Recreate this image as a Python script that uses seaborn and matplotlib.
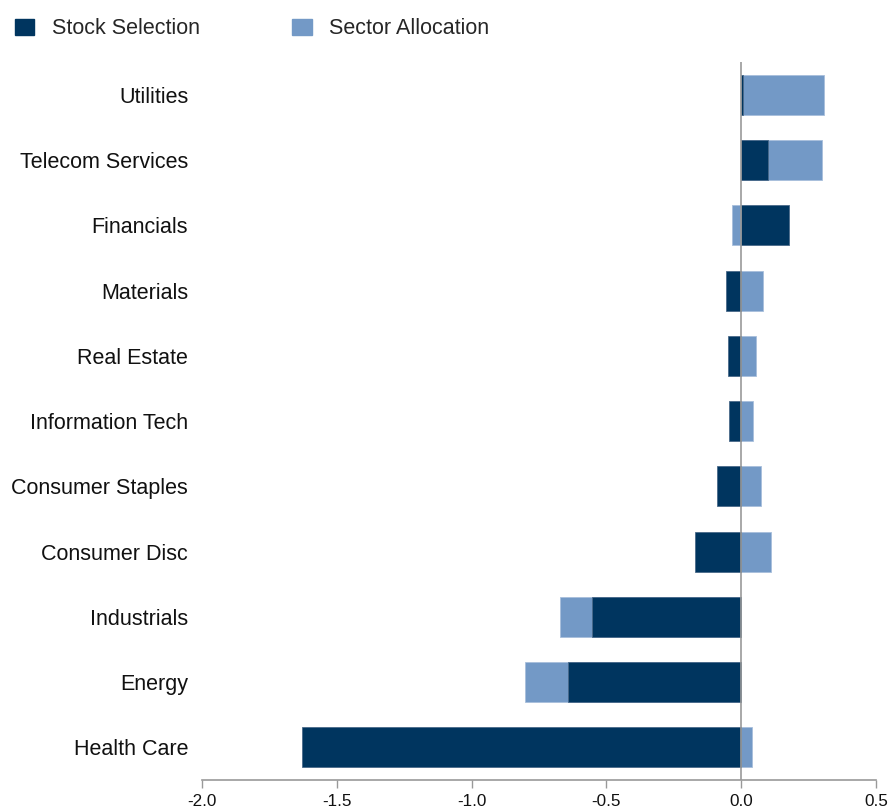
import matplotlib
matplotlib.use("Agg")
import matplotlib.pyplot as plt
import numpy as np
import pandas as pd
import seaborn as sns
from matplotlib.patches import Patch

sectors = [
    "Utilities", "Telecom Services", "Financials", "Materials", "Real Estate",
    "Information Tech", "Consumer Staples", "Consumer Disc", "Industrials",
    "Energy", "Health Care",
]
stock_selection = [0.008, 0.101, 0.178, -0.057, -0.048, -0.043, -0.089, -0.171, -0.554, -0.641, -1.628]
sector_allocation = [0.300, 0.200, -0.033, 0.083, 0.057, 0.043, 0.075, 0.110, -0.116, -0.160, 0.041]
x_ticks = [-2.0, -1.5, -1.0, -0.5, 0.0, 0.5]

DARK = "#00355f"
LIGHT = "#7399c6"

stock = np.array(stock_selection)
alloc = np.array(sector_allocation)
# positives and negatives stack separately: allocation sits beyond selection when signs agree
outer = np.where(np.sign(stock) == np.sign(alloc), stock + alloc, alloc)
df = pd.DataFrame({"sector": sectors, "stock": stock, "outer": outer})

sns.set_style("white")
plt.rcParams["font.family"] = ["Liberation Sans", "DejaVu Sans"]

fig = plt.figure(figsize=(8.9, 8.08), dpi=100)
ax = fig.add_axes([0.227, 0.0347, 0.757, 0.8883])

sns.barplot(data=df, x="outer", y="sector", order=sectors, orient="h", color=LIGHT,
            saturation=1, width=0.614, edgecolor="#a8bfdc", linewidth=0.6, ax=ax)
sns.barplot(data=df, x="stock", y="sector", order=sectors, orient="h", color=DARK,
            saturation=1, width=0.614, edgecolor="#4a6a8a", linewidth=0.6, ax=ax)

ax.axvline(0, color="#999999", lw=1.2, zorder=5)
ax.set_xlim(-2.0, 0.5)
ax.set_ylim(len(sectors) - 0.5, -0.5)
ax.set_xticks(x_ticks)
ax.set_xticklabels([f"{t:.1f}" for t in x_ticks], fontsize=12.3, color="#111111")
ax.tick_params(axis="x", direction="out", length=6, width=1, color="#999999", bottom=True, pad=4)
ax.tick_params(axis="y", length=0, labelsize=15.5, pad=10, labelcolor="#111111")
ax.set_xlabel("")
ax.set_ylabel("")
for side in ["top", "right", "left"]:
    ax.spines[side].set_visible(False)
ax.spines["bottom"].set_color("#999999")
ax.spines["bottom"].set_linewidth(1.2)

handles = [Patch(facecolor=DARK, edgecolor=DARK), Patch(facecolor=LIGHT, edgecolor=LIGHT)]
fig.legend(handles, ["Stock Selection", "Sector Allocation"], loc="upper left",
           bbox_to_anchor=(0.0, 0.996), ncol=2, frameon=False, fontsize=15.5,
           handlelength=0.9, handleheight=0.75, handletextpad=0.8, columnspacing=4.3,
           borderaxespad=0.3)

fig.savefig("out.png", dpi=100)
